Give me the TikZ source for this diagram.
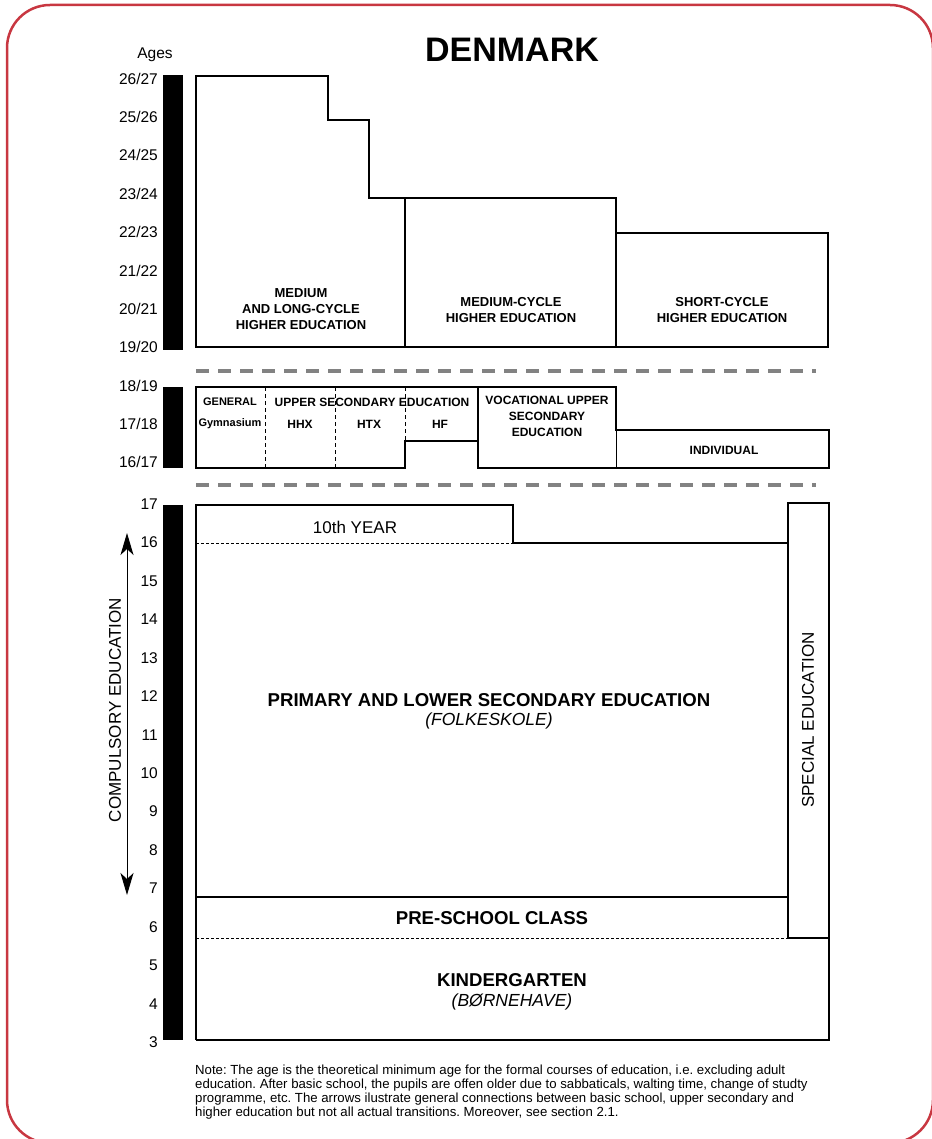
\documentclass[tikz,border=0pt]{standalone}
\usepackage{fontspec}
\setmainfont{Liberation Sans}
\usetikzlibrary{arrows.meta}
\definecolor{framered}{RGB}{200,55,65}
\definecolor{sepgray}{RGB}{130,130,130}
\frenchspacing
\tikzset{
  outline/.style={line width=2pt, line join=miter},
  thinline/.style={line width=0.8pt},
  finedash/.style={line width=0.8pt, dash pattern=on 3pt off 2pt},
  vdash/.style={line width=0.8pt, dash pattern=on 4pt off 3pt},
  sepline/.style={sepgray, line width=4pt, dash pattern=on 13pt off 9pt},
  agebar/.style={fill=black},
  agelbl/.style={anchor=east, inner sep=0pt, font=\fontsize{15.5}{18}\selectfont},
  heading/.style={font=\bfseries\fontsize{13}{16}\selectfont, align=center, inner sep=0pt},
  seclbl/.style={font=\bfseries\fontsize{12}{16}\selectfont, align=center, inner sep=0pt},
  smalllbl/.style={font=\bfseries\fontsize{11}{16}\selectfont, align=center, inner sep=0pt},
  biglbl/.style={font=\bfseries\fontsize{18.6}{22}\selectfont, inner sep=0pt},
  itlbl/.style={font=\itshape\fontsize{17.5}{20}\selectfont, inner sep=0pt},
  reglbl/.style={font=\fontsize{17}{20}\selectfont, inner sep=0pt},
  bothtips/.style={<->, >={Stealth[length=22pt,width=13pt,inset=6pt]}},
}
\begin{document}
\begin{tikzpicture}[x=1pt,y=-1pt]
\useasboundingbox (0,0) rectangle (931,1139);
% frame
\draw[framered, line width=2.5pt, rounded corners=43pt] (7,5) rectangle (933,1143);
% title
\node[font=\bfseries\fontsize{34}{40}\selectfont, inner sep=0pt] (title) at (512,50) {DENMARK};
\node[font=\fontsize{15.5}{18}\selectfont, inner sep=0pt] (ages) at (155,55) {Ages};
% age bars
\fill[agebar] (163,75) rectangle (183,350);
\fill[agebar] (163,387) rectangle (183,468);
\fill[agebar] (163,505) rectangle (183,1040);
% top age labels
\foreach \lab [count=\i from 0] in {26/27,25/26,24/25,23/24,22/23,21/22,20/21,19/20}
  \node[agelbl] (top\i) at (158,{78.5+38.4*\i}) {\lab};
% middle age labels
\node[agelbl] (mid0) at (158,386) {18/19};
\node[agelbl] (mid1) at (158,424) {17/18};
\node[agelbl] (mid2) at (158,462) {16/17};
% bottom age labels
\foreach \n in {17,16,...,3}
  \node[agelbl] (low\n) at (158,{504+38.45*(17-\n)}) {\n};
% ---------- higher education ----------
\draw[outline] (196,347) -- (196,76) -- (328,76) -- (328,120) -- (369,120) -- (369,198)
  -- (616,198) -- (616,233) -- (828,233) -- (828,347) -- cycle;
\draw[outline] (405,198) -- (405,347);
\draw[outline] (616,233) -- (616,347);
\node[heading] (longcycle) at (301,309) {MEDIUM\\AND LONG-CYCLE\\HIGHER EDUCATION};
\node[heading] (medcycle) at (511,310.5) {MEDIUM-CYCLE\\HIGHER EDUCATION};
\node[heading] (shortcycle) at (722,310.5) {SHORT-CYCLE\\HIGHER EDUCATION};
% separators
\draw[sepline] (196,371) -- (816,371);
\draw[sepline] (196,485) -- (816,485);
% ---------- upper secondary ----------
\draw[outline] (196,387) -- (616,387) -- (616,430) -- (829,430) -- (829,468) -- (478,468)
  -- (478,441) -- (405,441) -- (405,468) -- (196,468) -- cycle;
\draw[outline] (478,387) -- (478,468);
\draw[thinline] (616,430) -- (616,468);
\draw[vdash] (265,387) -- (265,468);
\draw[vdash] (335,387) -- (335,468);
\draw[vdash] (405,387) -- (405,441);
\node[smalllbl] (general) at (230,402) {GENERAL};
\node[seclbl] (upper) at (372,402) {UPPER SECONDARY EDUCATION};
\node[smalllbl] (gym) at (230,424) {Gymnasium};
\node[seclbl] (hhx) at (300,424) {HHX};
\node[seclbl] (htx) at (369,424) {HTX};
\node[seclbl] (hf) at (440,424) {HF};
\node[seclbl] (voc) at (547,416) {VOCATIONAL UPPER\\SECONDARY\\EDUCATION};
\node[seclbl] (indiv) at (724,450) {INDIVIDUAL};
% ---------- basic school ----------
\draw[outline] (196,1040) -- (196,505) -- (513,505) -- (513,543) -- (788,543);
\draw[outline] (788,503) rectangle (829,938);
\draw[outline] (829,938) -- (829,1040) -- (196,1040);
\draw[outline] (196,897) -- (788,897);
\draw[finedash] (196,543) -- (513,543);
\draw[finedash] (196,938) -- (788,938);
\node[reglbl] (tenth) at (355,527) {10th YEAR};
\node[biglbl] (primary) at (489,700) {PRIMARY AND LOWER SECONDARY EDUCATION};
\node[itlbl] (folke) at (489,721) {(FOLKESKOLE)};
\node[biglbl] (preschool) at (492,918) {PRE-SCHOOL CLASS};
\node[biglbl] (kinder) at (512,980) {KINDERGARTEN};
\node[itlbl] (borne) at (512,1002) {(BØRNEHAVE)};
\node[reglbl, rotate=90] (special) at (808,720) {SPECIAL EDUCATION};
% compulsory
\node[reglbl, rotate=90] (compulsory) at (115,710) {COMPULSORY EDUCATION};
\coordinate (cetop) at (127,533);
\coordinate (cebot) at (127,895);
\draw[line width=1pt, bothtips] (cetop) -- (cebot);
% note
\node[anchor=north west, align=left, inner sep=0pt, font=\fontsize{13.2}{14}\selectfont] (note) at (195,1065)
 {Note: The age is the theoretical minimum age for the formal courses of education, i.e. excluding adult\\
 education. After basic school, the pupils are offen older due to sabbaticals, walting time, change of studty\\
 programme, etc. The arrows ilustrate general connections between basic school, upper secondary and\\
 higher education but not all actual transitions. Moreover, see section 2.1.};
\end{tikzpicture}
\end{document}
